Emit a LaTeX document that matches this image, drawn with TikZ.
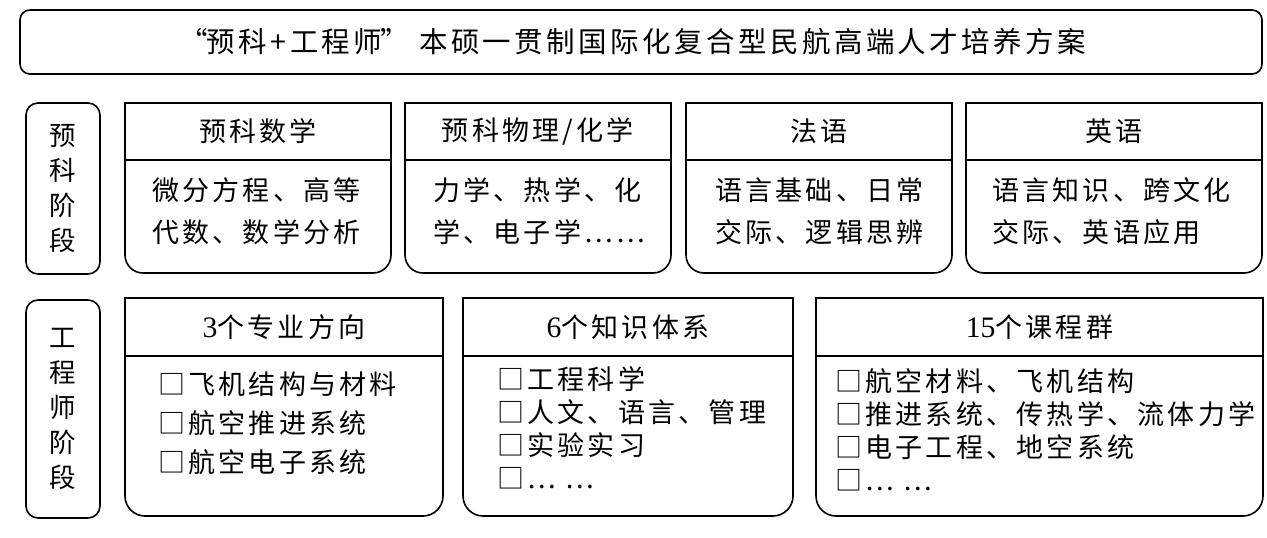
\documentclass[tikz,border=0pt]{standalone}
\usepackage{fontspec}
\newfontfamily\cjk[LetterSpace=12]{Noto Sans CJK SC}
\newfontfamily\latin[Scale=1.1]{Liberation Serif}

\begin{document}
\begin{tikzpicture}[x=1pt,y=-1pt,
  frame/.style={line width=1.6pt},
  titlebox/.style={draw,line width=1.6pt,rounded corners=10pt,inner sep=0pt,outer sep=0pt,
    font=\cjk\fontsize{28.5}{30}\selectfont},
  sidebox/.style={draw,line width=1.6pt,rounded corners=12pt,inner sep=0pt,outer sep=0pt,
    minimum width=74,align=center,font=\cjk\fontsize{26.5}{35}\selectfont},
  headbox/.style={draw,line width=1.6pt,anchor=north west,inner sep=0pt,outer sep=0pt,
    font=\cjk\fontsize{27}{30}\selectfont},
  bodytext/.style={anchor=west,align=left,inner sep=0pt,font=\cjk\fontsize{27}{42}\selectfont},
  itemtext/.style={anchor=west,align=left,inner sep=0pt,font=\cjk\fontsize{27}{33}\selectfont}]
\useasboundingbox(0,0)rectangle(1267,538);

% title
\node[titlebox,minimum width=1242,minimum height=64](title)at(641,42)
  {“\kern-1.5pt 预科+工程师\kern-1.5pt” 本硕一贯制国际化复合型民航高端人才培养方案\kern16pt};

% stage labels
\node[sidebox,minimum height=171](prepstage)at(63,188.5){预\\科\\阶\\段};
\node[sidebox,minimum height=218](engstage)at(63,409){工\\程\\师\\阶\\段};

% preparatory stage
\node[headbox,minimum width=266,minimum height=57](mathhead)at(125,103){预科数学};
\node[headbox,minimum width=266,minimum height=57](physhead)at(405,103){预科物理/化学};
\node[headbox,minimum width=266,minimum height=57](frhead)at(686,103){法语};
\node[headbox,minimum width=296,minimum height=57](enhead)at(966,103){英语};
\draw[frame,rounded corners=18pt](mathhead.south west)|-(258,273)-|(mathhead.south east);
\draw[frame,rounded corners=18pt](physhead.south west)|-(538,273)-|(physhead.south east);
\draw[frame,rounded corners=18pt](frhead.south west)|-(819,273)-|(frhead.south east);
\draw[frame,rounded corners=18pt](enhead.south west)|-(1114,273)-|(enhead.south east);
\node[bodytext](mathbody)at(152,211){微分方程、高等\\代数、数学分析};
\node[bodytext](physbody)at(433,211){力学、热学、化\\学、电子学……};
\node[bodytext](frbody)at(715,211){语言基础、日常\\交际、逻辑思辨};
\node[bodytext](enbody)at(992,211){语言知识、跨文化\\交际、英语应用};

% engineer stage
\node[headbox,minimum width=318,minimum height=58](majorhead)at(125,298){{\latin 3}个专业方向};
\node[headbox,minimum width=330,minimum height=58](knowhead)at(463,298){{\latin 6}个知识体系};
\node[headbox,minimum width=447,minimum height=58](coursehead)at(816,298){{\latin 15}个课程群};
\draw[frame,rounded corners=20pt](majorhead.south west)|-(284,516)-|(majorhead.south east);
\draw[frame,rounded corners=20pt](knowhead.south west)|-(628,516)-|(knowhead.south east);
\draw[frame,rounded corners=20pt](coursehead.south west)|-(1040,516)-|(coursehead.south east);
\node[itemtext,font=\cjk\fontsize{27}{39}\selectfont](majorbody)at(158,423)
  {□飞机结构与材料\\□航空推进系统\\□航空电子系统};
\node[itemtext](knowbody)at(497,428){□工程科学\\□人文、语言、管理\\□实验实习\\□… …};
\node[itemtext](coursebody)at(835,430)
  {□航空材料、飞机结构\\□推进系统、传热学、流体力学\\□电子工程、地空系统\\□… …};
\end{tikzpicture}
\end{document}
